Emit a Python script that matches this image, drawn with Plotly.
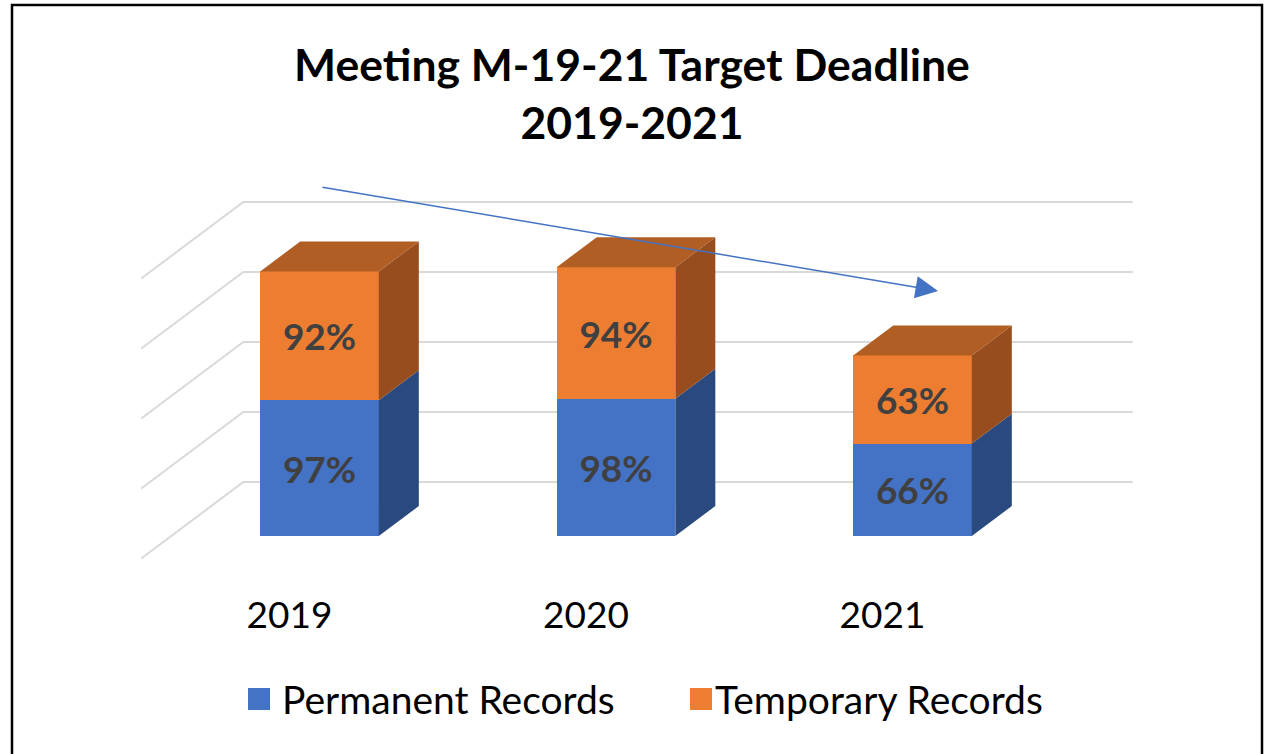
import plotly.graph_objects as go

# ---------------- data ----------------
years = ["2019", "2020", "2021"]
permanent = [97, 98, 66]
temporary = [92, 94, 63]
grid_values = [0, 50, 100, 150, 200]
series_names = ["Permanent Records", "Temporary Records"]
title_lines = ["Meeting M-19-21 Target Deadline", "2019-2021"]

# ---------------- style ----------------
W, H = 1264, 754
BLUE, BLUE_SIDE = "#4472C4", "#2A4A7F"
ORANGE, ORANGE_SIDE, ORANGE_TOP = "#ED7D31", "#974D1D", "#B15E24"
GRID = "#D9D9D9"
LABEL = "#404040"
FONT = "Lato"

BAR_W = 0.40          # bar width in category units
DEPTH_X = 0.135       # oblique depth offset (x units) for one bar depth
DEPTH_Y = 21.4        # oblique depth offset (value units) for one bar depth
WALL_BACK = 1.8       # back wall position, in bar depths
WALL_FRONT = -0.75    # front edge of floor / side wall, in bar depths

# pixel geometry of the axes
PLOT_B = 164
X0_PX, X_STEP_PX = 319.5, 296.5
Y0_PX, Y_PX_PER = 536.0, 1.4
plot_h = H - PLOT_B
x_range = [(0 - X0_PX) / X_STEP_PX, (W - X0_PX) / X_STEP_PX]
y_range = [(Y0_PX - plot_h) / Y_PX_PER, Y0_PX / Y_PX_PER]


def px_x(p):
    return p / W


def px_y(p):
    return (plot_h - p) / plot_h


xs = list(range(len(years)))
fig = go.Figure()

# ---- back wall and side wall gridlines (behind everything) ----
shapes = []
n = len(years)
for v in grid_values:
    flx = -0.5 + WALL_FRONT * DEPTH_X
    fly = v + WALL_FRONT * DEPTH_Y
    blx = -0.5 + WALL_BACK * DEPTH_X
    bly = v + WALL_BACK * DEPTH_Y
    brx = (n - 0.5) + WALL_BACK * DEPTH_X
    shapes.append(dict(type="path", xref="x", yref="y", layer="below",
                       path=f"M{flx},{fly} L{blx},{bly} L{brx},{bly}",
                       line=dict(color=GRID, width=2)))

# ---- front faces as stacked bars ----
label_font = dict(family=FONT, size=37, color=LABEL, weight="bold")
fig.add_trace(go.Bar(x=xs, y=permanent, width=BAR_W, name=series_names[0],
                     marker=dict(color=BLUE, line=dict(width=0)),
                     text=[f"{v}%" for v in permanent], textposition="inside",
                     insidetextanchor="middle", textfont=label_font,
                     showlegend=False, hoverinfo="skip"))
fig.add_trace(go.Bar(x=xs, y=temporary, width=BAR_W, name=series_names[1],
                     marker=dict(color=ORANGE, line=dict(width=0)),
                     text=[f"{v}%" for v in temporary], textposition="inside",
                     insidetextanchor="middle", textfont=label_font,
                     showlegend=False, hoverinfo="skip"))

# ---- side and top faces ----
for i, x in enumerate(xs):
    x0, x1 = x - BAR_W / 2, x + BAR_W / 2
    segs = [(0, permanent[i], BLUE_SIDE), (permanent[i], permanent[i] + temporary[i], ORANGE_SIDE)]
    for b, t, col in segs:
        fig.add_trace(go.Scatter(
            x=[x1, x1 + DEPTH_X, x1 + DEPTH_X, x1, x1],
            y=[b, b + DEPTH_Y, t + DEPTH_Y, t, b],
            mode="lines", fill="toself", fillcolor=col, line=dict(width=0, color=col),
            showlegend=False, hoverinfo="skip"))
    top = permanent[i] + temporary[i]
    fig.add_trace(go.Scatter(
        x=[x0, x0 + DEPTH_X, x1 + DEPTH_X, x1, x0],
        y=[top, top + DEPTH_Y, top + DEPTH_Y, top, top],
        mode="lines", fill="toself", fillcolor=ORANGE_TOP, line=dict(width=0, color=ORANGE_TOP),
        showlegend=False, hoverinfo="skip"))

# ---- frame ----
shapes.append(dict(type="rect", xref="paper", yref="paper",
                   x0=px_x(12), x1=px_x(1262), y0=px_y(H + 20), y1=px_y(5),
                   line=dict(color="black", width=2.5), layer="above"))

# ---- manual legend ----
legend_items = [(series_names[0], BLUE, 248, 280), (series_names[1], ORANGE, 690, 713)]
annotations = []
for name, col, sq_x, tx in legend_items:
    shapes.append(dict(type="rect", xref="paper", yref="paper",
                       x0=px_x(sq_x), x1=px_x(sq_x + 22), y0=px_y(710), y1=px_y(688),
                       fillcolor=col, line=dict(width=0)))
    annotations.append(dict(xref="paper", yref="paper", x=px_x(tx), y=px_y(699),
                            xanchor="left", yanchor="middle", showarrow=False,
                            text=name, font=dict(family=FONT, size=39, color="black")))

# ---- trend arrow ----
annotations.append(dict(x=2.086, y=175.0, ax=0.005, ay=249.3, xref="x", yref="y",
                        axref="x", ayref="y", showarrow=True, arrowhead=2,
                        arrowsize=3, arrowwidth=1.5, arrowcolor=BLUE, text=""))

fig.update_layout(
    width=W, height=H,
    barmode="stack",
    plot_bgcolor="white", paper_bgcolor="white",
    margin=dict(l=0, r=0, t=0, b=PLOT_B, pad=0),
    showlegend=False,
    title=dict(text="<b>" + title_lines[0] + "</b><br><b>" + title_lines[1] + "</b>",
               x=0.5, xanchor="center", xref="paper",
               y=1 - 81 / H, yanchor="middle", yref="container",
               font=dict(family=FONT, size=44.5, color="black")),
    xaxis=dict(range=x_range, showgrid=False, zeroline=False, showline=False,
               tickmode="array", tickvals=[x + WALL_FRONT * DEPTH_X for x in xs],
               ticktext=years, ticks="",
               tickfont=dict(family=FONT, size=37, color="black"), fixedrange=True),
    yaxis=dict(range=y_range, showgrid=False, zeroline=False, showline=False,
               showticklabels=False, fixedrange=True),
    shapes=shapes,
    annotations=annotations,
)

fig.write_html("out.html", config={"displayModeBar": False},
               post_script="document.body.style.margin='0';document.body.style.overflow='hidden';")
